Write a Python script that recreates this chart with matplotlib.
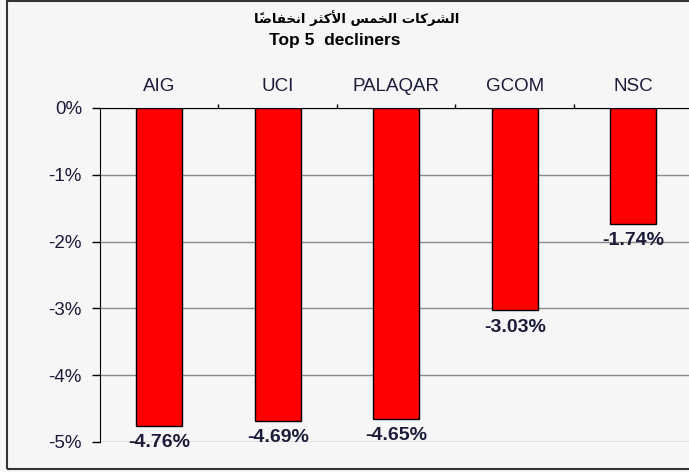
import matplotlib.pyplot as plt
from matplotlib.patches import Rectangle
from matplotlib.ticker import FuncFormatter

companies = ['AIG', 'UCI', 'PALAQAR', 'GCOM', 'NSC']
changes = [-4.76, -4.69, -4.65, -3.03, -1.74]
y_ticks = [0, -1, -2, -3, -4, -5]

# Arabic title, already shaped (presentation forms) and put in visual order,
# because matplotlib does no Arabic shaping / RTL layout by itself
title_ar = ('\uFE8E\u064B\uFEBF\uFE8E\uFED4\uFEA8\uFEE7\uFE8D '
            '\uFEAE\uFE9C\uFEDB\uFEF7\uFE8D '
            '\uFEB2\uFEE4\uFEA8\uFEDF\uFE8D '
            '\uFE95\uFE8E\uFEDB\uFEAE\uFEB8\uFEDF\uFE8D')
title_en = 'Top 5  decliners'

bg = '#f6f6f6'
txt = '#1c1c3a'

fig = plt.figure(figsize=(6.89, 4.72), dpi=100, facecolor=bg)
ax = fig.add_axes([0.1451, 0.0636, 0.86, 0.7076])
ax.set_facecolor(bg)

x = range(len(companies))
bars = ax.bar(x, changes, width=0.39, color='#ff0000', edgecolor='black',
              linewidth=1.0, zorder=3)

ax.set_xlim(-0.5, len(companies) - 0.5)
ax.set_ylim(-5, 0)
ax.set_yticks(y_ticks)
ax.yaxis.set_major_formatter(FuncFormatter(lambda v, p: '%d%%' % v))
ax.yaxis.grid(True, color='#8a8a8a', linewidth=1.0, zorder=0)

# category axis on top
ax.xaxis.tick_top()
ax.set_xticks(list(x))
ax.set_xticklabels(companies, fontfamily='Liberation Sans', fontsize=13.5,
                   color=txt)
ax.tick_params(axis='x', length=0, pad=9)
ax.set_xticks([i + 0.5 for i in range(len(companies) - 1)], minor=True)
ax.tick_params(axis='x', which='minor', top=True, length=3, width=1,
               direction='out', color='black')
ax.tick_params(axis='y', length=6, width=1, color='black', pad=7)
for lab in ax.get_yticklabels():
    lab.set_fontfamily('Liberation Sans')
    lab.set_fontsize(13.5)
    lab.set_color(txt)

for s in ['right', 'bottom']:
    ax.spines[s].set_visible(False)
ax.spines['top'].set_color('black')
ax.spines['left'].set_color('black')

# value labels under the bars
for b, v in zip(bars, changes):
    ax.annotate('%.2f%%' % v, (b.get_x() + b.get_width() / 2, v),
                xytext=(0, -12), textcoords='offset points',
                ha='center', va='center', fontsize=14, fontweight='bold',
                fontfamily='Liberation Sans', color=txt)

fig.text(0.518, 0.962, title_ar, ha='center', va='center', fontsize=9.5,
         fontweight='bold', fontfamily='DejaVu Sans', color='black')
fig.text(0.486, 0.915, title_en, ha='center', va='center', fontsize=12.5,
         fontweight='bold', fontfamily='Liberation Sans', color='black')

# outer chart frame
fig.patches.append(Rectangle((7 / 689, 3 / 472), 1.0, 468 / 472,
                             transform=fig.transFigure, fill=False,
                             edgecolor='#333333', linewidth=1.5))

fig.savefig('out.png', dpi=100, facecolor=bg)
